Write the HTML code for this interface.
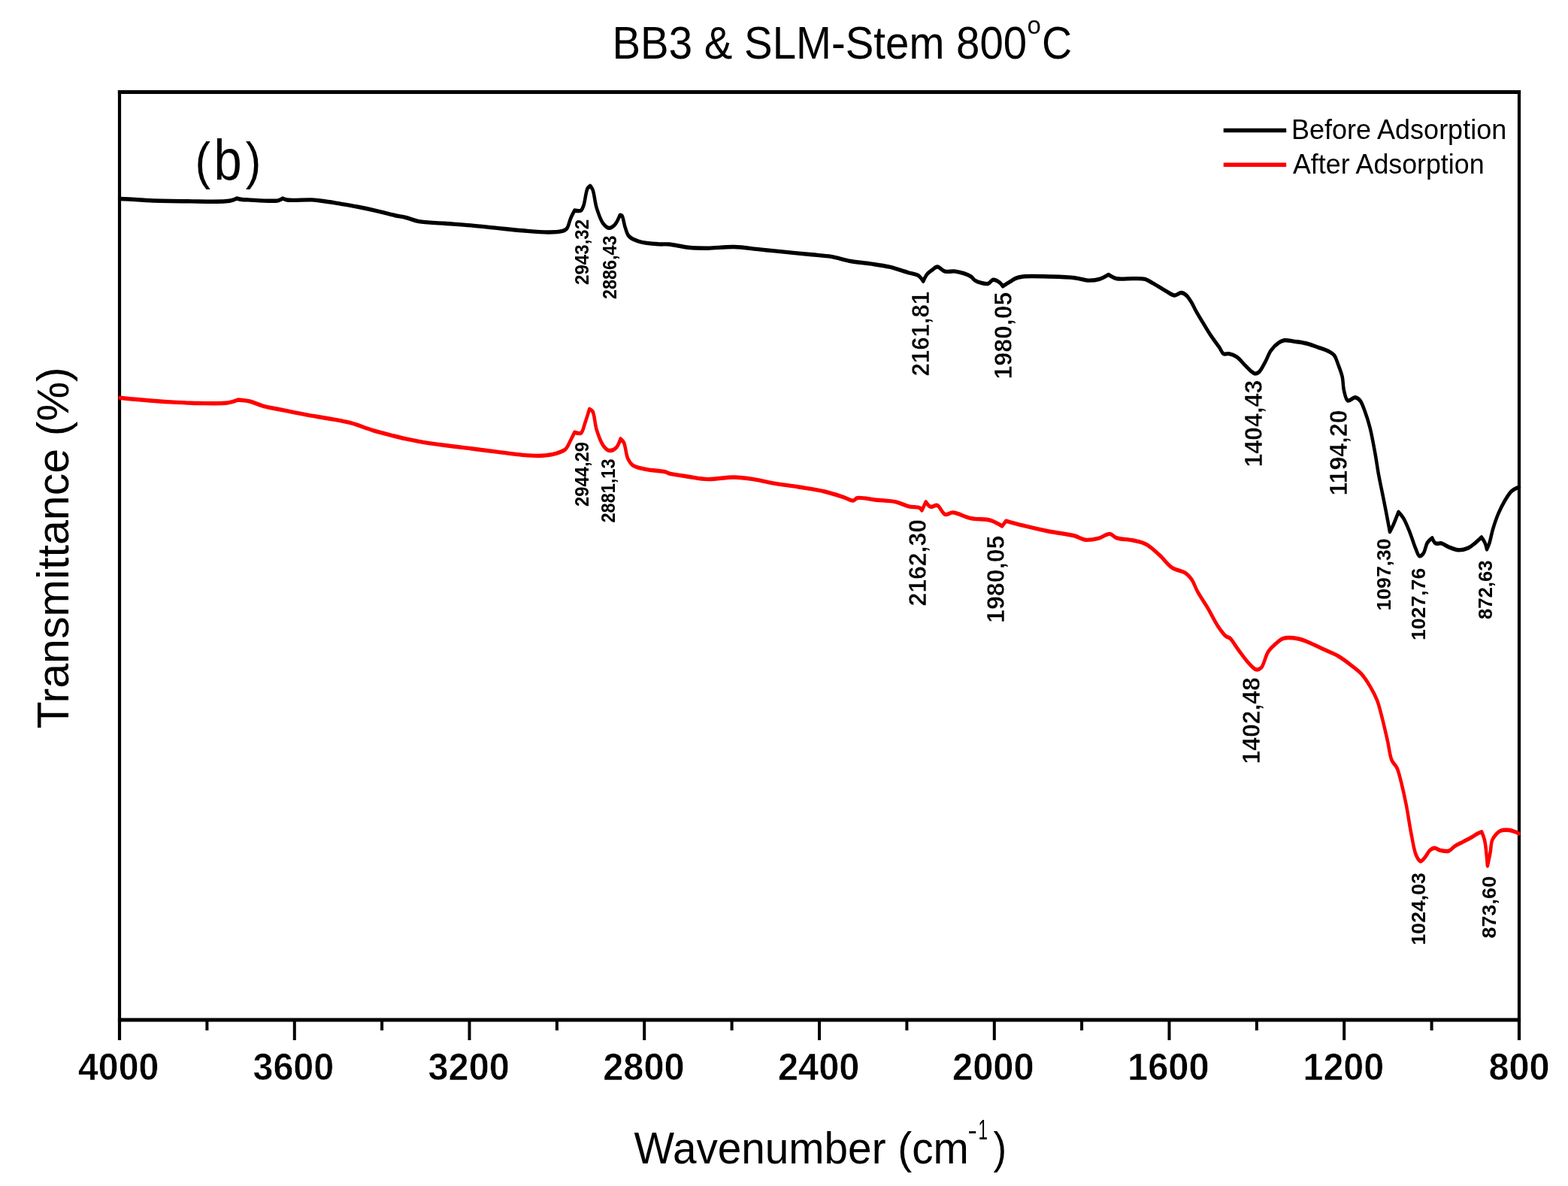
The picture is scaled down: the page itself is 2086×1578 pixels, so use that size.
<!DOCTYPE html>
<html><head><meta charset="utf-8"><title>BB3 &amp; SLM-Stem 800°C FTIR</title>
<style>html,body{margin:0;padding:0;background:#fff;} svg{display:block;}</style>
</head><body>
<svg width="2086" height="1578" viewBox="0 0 2086 1578">
<rect width="2086" height="1578" fill="#fff"/>
<g stroke="#000" fill="none" stroke-linecap="butt">
<line x1="156.9" y1="122.5" x2="2023.1" y2="122.5" stroke-width="4.8"/>
<line x1="156.9" y1="1357.0" x2="2023.1" y2="1357.0" stroke-width="4.8"/>
<line x1="159.0" y1="120.1" x2="159.0" y2="1384.0" stroke-width="4.2"/>
<line x1="2021.0" y1="120.1" x2="2021.0" y2="1384.0" stroke-width="4.2"/>
</g>
<g stroke="#000" stroke-width="4.0" fill="none">
<line x1="159.0" y1="1357.0" x2="159.0" y2="1384.0"/><line x1="275.4" y1="1357.0" x2="275.4" y2="1371.0"/><line x1="391.8" y1="1357.0" x2="391.8" y2="1384.0"/><line x1="508.1" y1="1357.0" x2="508.1" y2="1371.0"/><line x1="624.5" y1="1357.0" x2="624.5" y2="1384.0"/><line x1="740.9" y1="1357.0" x2="740.9" y2="1371.0"/><line x1="857.2" y1="1357.0" x2="857.2" y2="1384.0"/><line x1="973.6" y1="1357.0" x2="973.6" y2="1371.0"/><line x1="1090.0" y1="1357.0" x2="1090.0" y2="1384.0"/><line x1="1206.4" y1="1357.0" x2="1206.4" y2="1371.0"/><line x1="1322.8" y1="1357.0" x2="1322.8" y2="1384.0"/><line x1="1439.1" y1="1357.0" x2="1439.1" y2="1371.0"/><line x1="1555.5" y1="1357.0" x2="1555.5" y2="1384.0"/><line x1="1671.9" y1="1357.0" x2="1671.9" y2="1371.0"/><line x1="1788.2" y1="1357.0" x2="1788.2" y2="1384.0"/><line x1="1904.6" y1="1357.0" x2="1904.6" y2="1371.0"/><line x1="2021.0" y1="1357.0" x2="2021.0" y2="1384.0"/>
</g>
<g stroke-linejoin="round" stroke-linecap="round" fill="none" stroke-width="4.5" transform="scale(1,1.2)">
<path stroke="#000" d="M159.0,220.42C159.0,220.42 173.1,220.93 180.0,221.25C186.7,221.57 191.8,222.04 200.0,222.33C212.9,222.79 233.3,223.03 250.0,223.17C266.7,223.31 289.7,223.93 300.0,223.17C304.6,222.82 307.3,222.32 310.0,221.67C312.0,221.19 315.0,220.00 315.0,220.00C315.0,220.00 319.6,220.98 322.0,221.25C324.6,221.53 326.3,221.47 330.0,221.58C338.2,221.83 362.6,223.65 370.0,222.33C373.0,221.81 376.0,220.00 376.0,220.00C376.0,220.00 379.2,221.28 382.0,221.67C388.5,222.55 406.1,221.20 415.0,221.58C421.0,221.84 424.6,222.32 430.0,222.92C436.2,223.60 443.0,224.61 450.0,225.58C457.9,226.67 466.7,227.84 475.0,229.17C483.3,230.50 491.7,231.99 500.0,233.58C508.3,235.18 517.7,237.39 525.0,238.75C530.6,239.80 534.8,240.18 540.0,241.25C545.6,242.41 550.5,244.53 557.3,245.58C566.8,247.06 580.3,247.03 591.8,247.75C603.3,248.47 614.8,249.07 626.3,249.92C637.8,250.76 649.3,251.87 660.8,252.83C672.3,253.79 683.8,254.89 695.3,255.67C706.8,256.44 720.3,257.55 729.8,257.50C736.6,257.47 742.7,257.45 747.1,256.42C750.0,255.74 752.1,255.33 754.0,253.50C756.4,251.12 757.4,245.51 759.2,242.00C760.8,238.86 764.4,233.33 764.4,233.33C764.4,233.33 771.0,234.48 773.0,233.33C774.8,232.32 775.4,230.15 776.5,227.58C778.4,223.23 779.4,212.26 781.6,208.92C782.7,207.30 785.1,206.08 785.1,206.08C785.1,206.08 787.5,208.23 788.5,210.33C790.6,214.44 791.3,224.16 793.7,230.50C796.0,236.60 798.9,243.95 802.3,247.75C804.7,250.39 807.4,252.65 810.1,252.83C812.7,253.01 815.6,251.17 817.9,249.17C820.7,246.73 824.8,238.42 824.8,238.42C824.8,238.42 826.6,238.40 827.4,239.17C829.2,240.88 830.0,248.10 831.7,252.08C833.2,255.72 834.1,259.59 836.9,262.17C840.1,265.12 845.3,266.52 850.7,267.92C857.9,269.76 869.4,270.33 876.6,270.75C881.8,271.05 884.8,270.46 890.0,270.83C897.2,271.35 907.2,273.69 915.9,274.42C924.5,275.14 932.5,275.22 941.8,275.17C952.5,275.10 964.8,273.51 976.3,273.75C987.8,273.99 999.3,275.63 1010.8,276.58C1022.3,277.54 1033.8,278.54 1045.3,279.50C1056.8,280.46 1069.2,281.45 1079.9,282.33C1089.1,283.10 1097.1,283.30 1105.7,284.50C1114.4,285.71 1122.9,288.26 1131.6,289.58C1140.2,290.90 1148.9,291.35 1157.5,292.42C1166.1,293.49 1174.8,294.33 1183.4,296.00C1192.1,297.68 1202.3,300.80 1209.3,302.50C1214.1,303.66 1218.1,303.57 1221.4,305.33C1224.3,306.87 1228.3,311.83 1228.3,311.83C1228.3,311.83 1231.4,306.03 1233.5,303.92C1235.4,301.98 1237.8,300.77 1240.0,299.42C1242.2,298.08 1244.4,295.86 1246.9,295.83C1250.0,295.80 1253.5,300.03 1257.3,300.92C1261.5,301.88 1266.1,300.23 1271.1,300.92C1277.4,301.77 1287.3,304.35 1291.8,306.67C1294.3,307.96 1294.6,309.75 1297.0,310.92C1300.9,312.80 1309.9,315.35 1314.2,314.58C1317.1,314.06 1318.6,310.56 1321.1,310.25C1323.7,309.93 1327.4,311.70 1329.7,313.08C1331.6,314.23 1334.1,317.42 1334.1,317.42C1334.1,317.42 1340.7,313.94 1343.6,312.42C1346.1,311.12 1347.9,309.76 1350.5,308.83C1353.5,307.75 1356.3,307.13 1360.8,306.67C1368.9,305.82 1383.8,306.43 1395.3,306.67C1406.8,306.90 1420.3,307.11 1429.8,308.08C1436.6,308.77 1441.5,310.72 1447.1,310.92C1452.4,311.11 1457.8,310.67 1462.6,309.50C1467.0,308.42 1474.7,304.50 1474.7,304.50C1474.7,304.50 1480.9,307.99 1485.1,308.83C1491.1,310.02 1500.7,308.69 1507.5,308.83C1513.2,308.95 1518.5,308.47 1523.1,309.50C1527.0,310.37 1529.6,312.06 1533.4,313.83C1538.5,316.16 1545.4,320.08 1550.7,322.50C1555.0,324.48 1559.0,327.37 1562.7,327.50C1565.8,327.61 1568.7,324.48 1571.4,324.58C1573.9,324.68 1576.2,325.95 1578.3,327.50C1580.8,329.33 1583.1,332.65 1585.2,335.42C1587.2,338.12 1588.4,340.72 1590.5,343.92C1593.4,348.23 1597.5,353.95 1601.1,358.83C1604.6,363.62 1608.0,368.44 1611.6,372.92C1615.1,377.23 1619.3,381.68 1622.2,385.25C1624.3,387.87 1625.3,391.14 1627.5,392.25C1629.5,393.26 1632.2,391.83 1634.8,392.25C1638.0,392.77 1642.0,393.88 1645.4,395.75C1649.1,397.83 1652.6,401.82 1655.9,404.58C1658.9,407.06 1661.8,409.89 1664.4,411.58C1666.3,412.81 1667.8,414.11 1669.6,414.25C1671.3,414.38 1673.1,413.78 1674.9,412.50C1677.7,410.45 1680.8,404.96 1683.4,401.00C1686.0,397.04 1687.7,392.28 1690.7,388.75C1693.7,385.27 1697.9,381.83 1701.3,379.92C1703.9,378.47 1705.8,377.68 1708.7,377.33C1712.5,376.87 1717.7,378.11 1722.4,378.67C1727.5,379.26 1733.0,379.75 1738.2,380.83C1743.5,381.93 1748.9,383.74 1754.0,385.25C1758.7,386.66 1763.9,387.88 1767.7,389.58C1770.6,390.90 1773.1,391.82 1775.1,394.00C1777.5,396.56 1778.7,400.83 1780.4,404.58C1782.3,408.70 1784.4,413.11 1785.7,417.75C1787.0,422.61 1786.6,428.55 1788.0,433.17C1789.2,437.23 1790.4,443.05 1793.0,444.17C1795.4,445.20 1799.9,440.46 1802.8,440.67C1805.3,440.84 1807.5,442.22 1809.4,444.17C1812.1,446.82 1813.9,451.93 1816.0,456.50C1818.4,461.82 1820.6,467.69 1822.6,474.33C1825.1,482.43 1827.2,492.83 1829.2,501.75C1831.1,510.19 1832.4,518.65 1834.1,526.50C1835.7,533.69 1837.4,540.22 1839.1,547.08C1840.7,553.94 1842.4,560.69 1844.0,567.67C1845.7,574.87 1849.0,589.67 1849.0,589.67C1849.0,589.67 1852.2,584.56 1853.9,581.42C1856.0,577.46 1860.5,567.67 1860.5,567.67C1860.5,567.67 1865.0,571.66 1867.1,574.58C1870.0,578.50 1872.7,584.28 1875.3,589.67C1878.2,595.61 1881.0,603.96 1883.6,608.83C1885.3,612.04 1886.5,616.02 1888.4,616.50C1890.0,616.90 1892.2,615.19 1893.7,613.50C1895.9,611.03 1896.7,604.62 1899.0,601.67C1900.8,599.32 1905.3,596.50 1905.3,596.50C1905.3,596.50 1907.7,601.41 1909.7,602.42C1911.8,603.46 1915.0,601.87 1917.7,602.42C1920.6,603.01 1923.2,605.02 1926.5,606.17C1930.5,607.54 1935.4,609.61 1939.9,609.83C1944.3,610.05 1949.3,608.99 1953.2,607.58C1956.6,606.36 1959.1,604.34 1962.0,602.42C1965.0,600.41 1970.9,595.75 1970.9,595.75C1970.9,595.75 1974.2,599.48 1975.4,601.67C1976.6,603.91 1978.0,609.08 1978.0,609.08C1978.0,609.08 1980.5,604.61 1981.6,601.67C1983.2,597.64 1984.2,591.96 1986.0,586.92C1988.0,581.40 1990.4,575.30 1993.1,569.92C1995.7,564.70 1998.9,559.47 2002.0,555.08C2004.8,551.20 2007.8,547.15 2010.8,544.75C2013.1,542.91 2016.0,541.77 2017.9,541.08C2019.1,540.65 2021.0,540.42 2021.0,540.42"/>
<path stroke="#ff0000" d="M159.6,441.00C159.6,441.00 178.1,442.59 188.4,443.33C200.3,444.19 213.9,445.12 226.7,445.75C239.5,446.37 252.2,446.94 265.0,447.08C277.8,447.22 293.9,447.78 303.4,446.58C309.1,445.87 316.8,443.33 316.8,443.33C316.8,443.33 326.8,443.94 332.2,445.00C338.3,446.21 344.9,449.12 351.3,450.58C357.6,452.03 364.1,452.68 370.5,453.75C376.9,454.82 383.3,455.93 389.7,457.00C396.1,458.07 401.9,459.09 408.9,460.17C417.5,461.48 428.0,462.71 437.6,464.17C447.2,465.63 456.9,466.81 466.4,468.92C476.1,471.05 485.6,474.51 495.2,476.92C504.7,479.31 515.7,481.59 523.9,483.33C530.0,484.64 534.5,485.58 540.0,486.58C545.7,487.62 550.5,488.44 557.3,489.42C566.8,490.79 580.3,492.43 591.8,493.75C603.3,495.07 614.8,496.14 626.3,497.33C637.8,498.53 649.3,499.72 660.8,500.92C672.3,502.11 684.6,503.79 695.3,504.50C704.5,505.11 713.4,505.62 721.2,505.25C727.6,504.95 733.1,504.38 738.5,503.08C743.4,501.90 748.8,500.80 752.3,498.08C755.5,495.60 757.1,491.26 759.2,488.00C761.1,485.03 764.4,479.33 764.4,479.33C764.4,479.33 770.8,481.35 773.0,480.08C775.6,478.59 776.5,473.24 778.2,469.25C780.2,464.53 784.2,453.50 784.2,453.50C784.2,453.50 787.3,454.59 788.5,456.33C791.0,459.83 791.3,470.16 793.7,476.50C796.0,482.60 799.0,489.78 802.3,493.75C804.7,496.56 807.2,499.01 810.1,499.50C813.0,499.99 817.1,498.57 819.6,496.58C822.3,494.44 825.6,486.58 825.6,486.58C825.6,486.58 828.7,488.70 830.0,490.83C832.2,494.49 832.7,503.64 835.1,508.08C837.0,511.48 838.8,514.03 842.0,516.00C846.2,518.57 852.9,519.18 859.3,520.33C867.0,521.73 880.0,522.12 885.2,523.25C887.5,523.75 887.7,524.30 890.0,524.83C895.2,526.04 907.3,527.42 915.9,528.50C924.5,529.58 932.5,531.12 941.8,531.33C952.5,531.58 965.6,529.06 976.3,529.17C985.6,529.26 993.6,530.25 1002.2,531.33C1010.9,532.42 1018.8,534.31 1028.1,535.67C1038.8,537.23 1051.1,538.45 1062.6,540.00C1074.1,541.56 1086.5,542.90 1097.1,545.00C1106.4,546.84 1116.0,549.59 1123.0,551.50C1127.8,552.81 1132.0,555.44 1135.1,555.08C1137.3,554.84 1137.8,552.71 1140.3,552.17C1145.5,551.03 1157.5,553.61 1166.1,554.33C1174.7,555.06 1184.3,555.06 1192.0,556.50C1198.4,557.70 1203.8,560.50 1209.3,561.58C1214.1,562.53 1220.2,561.76 1223.1,563.00C1224.8,563.70 1226.5,565.83 1226.5,565.83C1226.5,565.83 1231.7,556.50 1231.7,556.50C1231.7,556.50 1235.3,560.84 1236.9,561.58C1238.0,562.07 1238.8,561.92 1240.0,561.83C1241.9,561.71 1244.6,559.66 1246.9,560.33C1250.3,561.29 1253.5,569.33 1257.3,570.42C1260.5,571.35 1263.5,568.14 1267.6,568.25C1274.0,568.43 1283.5,573.31 1291.8,574.75C1300.2,576.22 1310.3,575.12 1317.7,576.92C1323.7,578.36 1333.2,583.33 1333.2,583.33C1333.2,583.33 1338.4,577.58 1338.4,577.58C1338.4,577.58 1352.5,580.95 1360.8,582.67C1371.0,584.79 1383.8,587.25 1395.3,589.17C1406.8,591.08 1420.9,592.15 1429.8,594.17C1435.5,595.47 1438.8,597.97 1443.7,598.50C1449.1,599.08 1455.4,598.12 1460.9,597.00C1466.3,595.92 1472.0,591.67 1476.4,592.00C1479.8,592.25 1481.4,595.22 1485.1,596.33C1490.7,598.04 1500.6,597.86 1507.5,599.17C1513.7,600.33 1519.2,601.04 1524.8,603.50C1530.8,606.15 1536.4,610.79 1542.0,615.00C1547.9,619.39 1553.2,626.02 1559.3,629.42C1564.8,632.47 1572.0,632.62 1576.6,635.17C1580.2,637.17 1582.6,639.27 1585.2,642.33C1588.3,646.02 1590.2,651.47 1593.4,656.33C1597.2,662.04 1602.4,668.05 1606.8,674.25C1611.4,680.70 1615.8,688.77 1620.3,694.33C1623.9,698.78 1627.8,703.33 1631.0,705.50C1632.9,706.84 1634.5,706.36 1636.4,707.75C1639.6,710.07 1643.3,715.84 1647.1,720.08C1651.3,724.75 1656.1,730.66 1660.5,734.58C1664.1,737.81 1668.0,741.89 1671.3,742.42C1673.7,742.80 1675.9,742.01 1678.0,740.25C1681.5,737.26 1683.4,727.29 1687.4,722.33C1691.1,717.73 1697.0,713.69 1700.8,711.17C1703.3,709.51 1704.6,708.41 1707.5,707.75C1712.3,706.66 1721.7,707.39 1727.7,708.33C1732.7,709.12 1736.2,710.59 1741.1,712.25C1747.2,714.31 1754.5,717.47 1761.2,720.08C1767.9,722.69 1774.7,724.66 1781.3,727.92C1788.2,731.32 1796.1,736.73 1801.5,740.25C1805.2,742.67 1807.5,743.84 1810.6,746.67C1814.7,750.39 1819.4,756.35 1823.0,761.42C1826.4,766.20 1829.3,770.69 1831.9,776.17C1834.8,782.34 1836.7,789.57 1839.0,796.83C1841.5,804.78 1843.9,814.01 1846.1,822.00C1848.0,829.22 1848.8,837.43 1851.4,842.67C1853.3,846.49 1856.5,847.98 1858.5,851.50C1860.8,855.65 1862.0,860.63 1863.8,866.33C1866.1,873.87 1868.7,883.57 1870.9,892.92C1873.3,903.21 1875.3,915.76 1877.7,925.58C1879.7,933.77 1881.1,942.75 1883.8,947.92C1885.5,951.20 1887.8,954.76 1889.9,955.00C1891.7,955.21 1893.5,952.77 1895.3,951.08C1897.6,948.94 1899.7,944.66 1902.2,942.83C1904.1,941.40 1906.1,940.33 1908.3,940.25C1910.7,940.16 1913.1,942.29 1916.0,942.83C1919.4,943.48 1924.2,944.32 1927.5,943.42C1930.5,942.60 1932.3,939.92 1935.2,938.33C1938.6,936.49 1942.9,934.96 1946.7,933.25C1950.5,931.54 1954.8,929.71 1958.2,928.08C1961.0,926.74 1963.5,925.26 1965.9,924.25C1967.8,923.43 1971.2,922.33 1971.2,922.33C1971.2,922.33 1974.0,927.79 1975.1,931.92C1976.9,938.75 1978.9,960.08 1978.9,960.08C1978.9,960.08 1981.7,949.65 1982.7,944.75C1983.6,940.30 1983.5,935.40 1985.0,931.92C1986.3,929.05 1988.4,926.77 1990.4,924.92C1992.2,923.25 1994.0,921.87 1996.5,921.08C1999.6,920.08 2004.6,920.10 2008.0,920.42C2010.8,920.68 2013.5,921.60 2015.7,922.33C2017.5,922.91 2020.3,924.25 2020.3,924.25"/>
</g>
<g fill="none">
<line x1="1627.7" y1="173.5" x2="1711.2" y2="173.5" stroke="#000" stroke-width="5.5" stroke-linecap="butt"/>
<line x1="1627.7" y1="219.3" x2="1711.2" y2="219.3" stroke="#ff0000" stroke-width="5.5" stroke-linecap="butt"/>
</g>
<g font-family="'Liberation Sans', Arial, sans-serif" fill="#000">
<text x="814.5" y="77.5" font-size="60.5" textLength="551.63" lengthAdjust="spacingAndGlyphs">BB3 &amp; SLM-Stem 800</text>
<text x="1366.5" y="44.6" font-size="33" textLength="18.36" lengthAdjust="spacingAndGlyphs">o</text>
<text x="1386.0" y="77.5" font-size="60.5" textLength="40.1" lengthAdjust="spacingAndGlyphs">C</text>
<text x="843.5" y="1547.5" font-size="60" textLength="445.22" lengthAdjust="spacingAndGlyphs">Wavenumber (cm</text>
<text x="1287.5" y="1515.5" font-size="36" textLength="12.4" lengthAdjust="spacingAndGlyphs">-</text>
<text x="1301.5" y="1515.5" font-size="36" textLength="12.43" lengthAdjust="spacingAndGlyphs">1</text>
<text x="1321.5" y="1547.5" font-size="60" textLength="17.58" lengthAdjust="spacingAndGlyphs">)</text>
<text x="1718.0" y="185.3" font-size="36" textLength="286.2" lengthAdjust="spacingAndGlyphs">Before Adsorption</text>
<text x="1720.0" y="230.5" font-size="36" textLength="254.56" lengthAdjust="spacingAndGlyphs">After Adsorption</text>
<text transform="translate(90.7,969.5) rotate(-90)" font-size="59.5" textLength="481.23" lengthAdjust="spacingAndGlyphs">Transmittance (%)</text>
<text x="104.0" y="1437.2" font-size="50.5" font-weight="bold" textLength="107.34" lengthAdjust="spacingAndGlyphs" stroke="#fff" stroke-width="0.6">4000</text>
<text x="336.5" y="1437.2" font-size="50.5" font-weight="bold" textLength="107.74" lengthAdjust="spacingAndGlyphs" stroke="#fff" stroke-width="0.6">3600</text>
<text x="569.5" y="1437.2" font-size="50.5" font-weight="bold" textLength="108.34" lengthAdjust="spacingAndGlyphs" stroke="#fff" stroke-width="0.6">3200</text>
<text x="802.25" y="1437.2" font-size="50.5" font-weight="bold" textLength="108.34" lengthAdjust="spacingAndGlyphs" stroke="#fff" stroke-width="0.6">2800</text>
<text x="1035.0" y="1437.2" font-size="50.5" font-weight="bold" textLength="108.34" lengthAdjust="spacingAndGlyphs" stroke="#fff" stroke-width="0.6">2400</text>
<text x="1267.0" y="1437.2" font-size="50.5" font-weight="bold" textLength="108.74" lengthAdjust="spacingAndGlyphs" stroke="#fff" stroke-width="0.6">2000</text>
<text x="1500.0" y="1437.2" font-size="50.5" font-weight="bold" textLength="108.74" lengthAdjust="spacingAndGlyphs" stroke="#fff" stroke-width="0.6">1600</text>
<text x="1733.5" y="1437.2" font-size="50.5" font-weight="bold" textLength="107.74" lengthAdjust="spacingAndGlyphs" stroke="#fff" stroke-width="0.6">1200</text>
<text x="1980.5" y="1437.2" font-size="50.5" font-weight="bold" textLength="81.07" lengthAdjust="spacingAndGlyphs" stroke="#fff" stroke-width="0.6">800</text>
<text transform="translate(782.9,379.0) rotate(-90)" font-size="25" font-weight="bold" textLength="87.17" lengthAdjust="spacingAndGlyphs">2943,32</text>
<text transform="translate(820.4,398.0) rotate(-90)" font-size="25" font-weight="bold" textLength="84.58" lengthAdjust="spacingAndGlyphs">2886,43</text>
<text transform="translate(1236.1,500.5) rotate(-90)" font-size="32.5" font-weight="bold" textLength="112.68" lengthAdjust="spacingAndGlyphs" stroke="#fff" stroke-width="0.5">2161,81</text>
<text transform="translate(1346.4,504.5) rotate(-90)" font-size="32.5" font-weight="bold" textLength="115.88" lengthAdjust="spacingAndGlyphs" stroke="#fff" stroke-width="0.5">1980,05</text>
<text transform="translate(1678.8,621.5) rotate(-90)" font-size="32.5" font-weight="bold" textLength="115.68" lengthAdjust="spacingAndGlyphs" stroke="#fff" stroke-width="0.5">1404,43</text>
<text transform="translate(1791.7,659.5) rotate(-90)" font-size="32.5" font-weight="bold" textLength="114.09" lengthAdjust="spacingAndGlyphs" stroke="#fff" stroke-width="0.5">1194,20</text>
<text transform="translate(1850.4,812.5) rotate(-90)" font-size="25" font-weight="bold" textLength="96.17" lengthAdjust="spacingAndGlyphs">1097,30</text>
<text transform="translate(1896.1,852.0) rotate(-90)" font-size="25" font-weight="bold" textLength="96.18" lengthAdjust="spacingAndGlyphs">1027,76</text>
<text transform="translate(1984.5,824.0) rotate(-90)" font-size="25" font-weight="bold" textLength="78.47" lengthAdjust="spacingAndGlyphs">872,63</text>
<text transform="translate(782.8,674.0) rotate(-90)" font-size="25" font-weight="bold" textLength="85.97" lengthAdjust="spacingAndGlyphs">2944,29</text>
<text transform="translate(817.9,695.5) rotate(-90)" font-size="25" font-weight="bold" textLength="84.98" lengthAdjust="spacingAndGlyphs">2881,13</text>
<text transform="translate(1231.6,806.5) rotate(-90)" font-size="32.5" font-weight="bold" textLength="115.48" lengthAdjust="spacingAndGlyphs" stroke="#fff" stroke-width="0.5">2162,30</text>
<text transform="translate(1336.0,829.0) rotate(-90)" font-size="32.5" font-weight="bold" textLength="116.48" lengthAdjust="spacingAndGlyphs" stroke="#fff" stroke-width="0.5">1980,05</text>
<text transform="translate(1676.1,1016.5) rotate(-90)" font-size="32.5" font-weight="bold" textLength="115.28" lengthAdjust="spacingAndGlyphs" stroke="#fff" stroke-width="0.5">1402,48</text>
<text transform="translate(1895.8,1257.5) rotate(-90)" font-size="25" font-weight="bold" textLength="96.38" lengthAdjust="spacingAndGlyphs">1024,03</text>
<text transform="translate(1989.7,1248.5) rotate(-90)" font-size="25" font-weight="bold" textLength="82.67" lengthAdjust="spacingAndGlyphs">873,60</text>
<text transform="translate(259.5,238.2) scale(0.9,1)" font-size="68.5">(</text>
<text transform="translate(284.6,238.8) scale(0.88,1)" font-size="76">b</text>
<text transform="translate(326.7,238.2) scale(0.9,1)" font-size="68.5">)</text>
</g>
</svg>
</body></html>
